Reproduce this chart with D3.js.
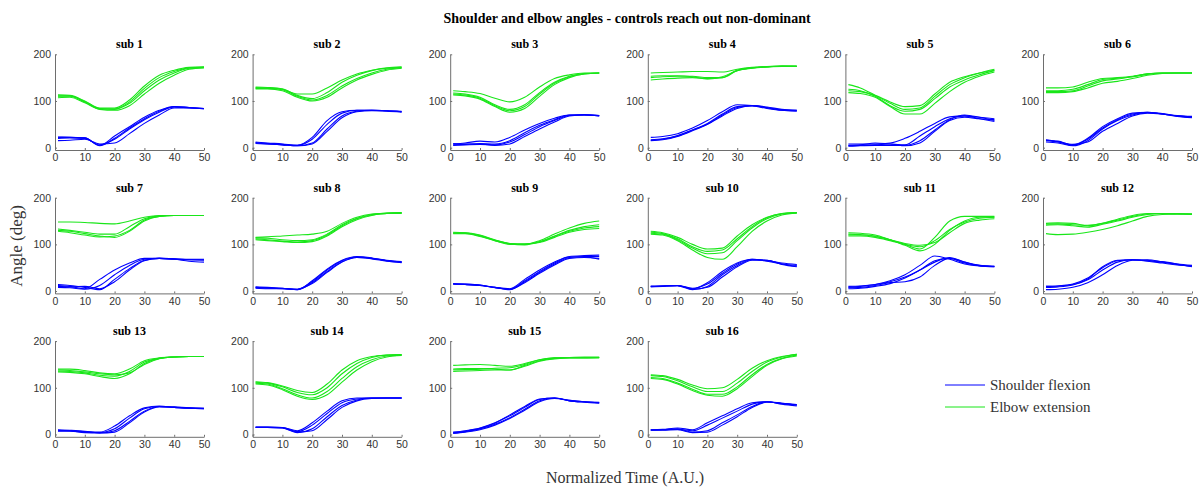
<!DOCTYPE html>
<html>
<head>
<meta charset="utf-8">
<script src="https://cdn.jsdelivr.net/npm/d3@7"></script>
<style>
  body { margin: 0; background: #fff; }
  svg { display: block; }
</style>
</head>
<body>
<div id="chart"></div>
<script>
var timePoints = [1, 5, 10, 15, 20, 25, 30, 35, 40, 45, 50];
var xTicks = [0, 10, 20, 30, 40, 50];
var yTicks = [0, 100, 200];
var seriesNames = ["Shoulder flexion", "Elbow extension"];

// one row per trial, values in degrees at timePoints
var sub1Shoulder = [
  [22, 22, 21, 5, 25, 45, 65, 80, 88, 86, 84],
  [20, 21, 20, 6, 18, 40, 60, 76, 87, 85, 84],
  [15, 16, 18, 8, 10, 30, 52, 70, 85, 85, 83],
  [23, 22, 21, 4, 20, 42, 62, 78, 88, 86, 84]];
var sub1Elbow = [
  [113, 112, 100, 85, 85, 102, 132, 155, 166, 172, 173],
  [110, 110, 98, 83, 82, 95, 122, 145, 160, 170, 172],
  [107, 108, 96, 82, 80, 90, 115, 138, 155, 168, 171],
  [111, 111, 99, 84, 83, 98, 127, 150, 163, 171, 172]];
var sub2Shoulder = [
  [11, 9, 7, 5, 18, 50, 74, 80, 80, 79, 77],
  [10, 8, 6, 4, 10, 40, 68, 78, 80, 79, 77],
  [12, 10, 8, 5, 22, 58, 77, 80, 80, 79, 78],
  [9, 8, 6, 4, 8, 35, 64, 77, 79, 78, 76]];
var sub2Elbow = [
  [130, 129, 126, 112, 105, 118, 140, 155, 165, 170, 172],
  [127, 127, 124, 110, 102, 112, 132, 148, 160, 168, 171],
  [129, 128, 125, 115, 115, 128, 145, 158, 166, 171, 173],
  [126, 126, 122, 108, 100, 108, 128, 145, 157, 166, 170]];
var sub3Shoulder = [
  [8, 10, 14, 12, 22, 38, 52, 63, 70, 70, 68],
  [5, 6, 7, 6, 12, 28, 45, 58, 69, 70, 68],
  [9, 8, 8, 5, 8, 24, 40, 55, 68, 70, 69],
  [6, 7, 9, 8, 15, 32, 48, 60, 70, 71, 69]];
var sub3Elbow = [
  [122, 120, 116, 106, 98, 108, 130, 148, 156, 160, 160],
  [117, 115, 108, 92, 82, 92, 118, 140, 153, 159, 160],
  [113, 111, 104, 88, 76, 84, 110, 135, 150, 158, 160],
  [115, 113, 106, 90, 79, 88, 115, 138, 152, 158, 160]];
var sub4Shoulder = [
  [22, 24, 30, 42, 58, 77, 92, 90, 84, 80, 79],
  [16, 18, 25, 38, 52, 72, 88, 90, 86, 81, 80],
  [17, 19, 26, 38, 50, 68, 84, 90, 87, 82, 80],
  [15, 17, 24, 36, 50, 70, 86, 90, 85, 80, 78]];
var sub4Elbow = [
  [160, 161, 162, 163, 163, 162, 168, 172, 174, 175, 175],
  [150, 152, 153, 153, 150, 150, 165, 170, 173, 175, 175],
  [145, 147, 149, 150, 148, 150, 166, 171, 173, 174, 174],
  [153, 154, 154, 152, 147, 152, 165, 171, 173, 175, 174]];
var sub5Shoulder = [
  [5, 6, 10, 8, 6, 25, 45, 62, 68, 65, 62],
  [3, 4, 5, 5, 5, 15, 38, 60, 70, 65, 58],
  [8, 8, 8, 10, 20, 35, 52, 66, 68, 62, 56],
  [4, 5, 6, 8, 4, 10, 35, 58, 65, 62, 60]];
var sub5Elbow = [
  [135, 128, 112, 95, 82, 85, 110, 135, 150, 160, 168],
  [125, 122, 110, 90, 78, 82, 105, 130, 145, 156, 165],
  [118, 116, 108, 88, 72, 72, 95, 120, 140, 153, 162],
  [122, 120, 112, 98, 88, 90, 115, 140, 152, 160, 166]];
var sub6Shoulder = [
  [16, 14, 6, 20, 45, 62, 74, 76, 72, 68, 66],
  [12, 10, 4, 15, 40, 58, 70, 75, 72, 67, 64],
  [15, 12, 5, 18, 42, 60, 72, 76, 73, 69, 67],
  [17, 13, 7, 12, 35, 52, 68, 74, 72, 68, 65]];
var sub6Elbow = [
  [128, 128, 130, 140, 148, 150, 153, 158, 160, 160, 160],
  [120, 120, 122, 132, 143, 147, 152, 157, 160, 160, 160],
  [118, 118, 120, 128, 138, 142, 148, 155, 159, 160, 160],
  [122, 122, 125, 135, 146, 149, 152, 158, 160, 160, 160]];
var sub7Shoulder = [
  [12, 10, 5, 25, 45, 60, 70, 70, 68, 67, 67],
  [8, 7, 4, 12, 35, 55, 68, 70, 69, 68, 68],
  [14, 12, 8, 3, 25, 48, 66, 70, 69, 67, 66],
  [10, 9, 10, 5, 20, 45, 65, 70, 68, 64, 62]];
var sub7Elbow = [
  [148, 148, 147, 145, 144, 150, 158, 162, 162, 162, 162],
  [133, 130, 126, 122, 122, 138, 155, 161, 162, 162, 162],
  [128, 125, 120, 116, 118, 130, 152, 160, 162, 162, 162],
  [130, 128, 123, 118, 115, 128, 150, 160, 162, 162, 162]];
var sub8Shoulder = [
  [8, 7, 6, 4, 20, 45, 65, 73, 70, 65, 62],
  [6, 5, 5, 3, 18, 42, 63, 72, 70, 66, 63],
  [9, 8, 6, 3, 22, 47, 66, 74, 71, 65, 62],
  [7, 6, 5, 4, 16, 40, 62, 72, 69, 64, 61]];
var sub8Elbow = [
  [115, 116, 118, 120, 122, 128, 145, 158, 165, 167, 168],
  [112, 110, 107, 105, 108, 120, 140, 155, 163, 166, 167],
  [110, 108, 106, 104, 106, 118, 138, 153, 162, 166, 166],
  [114, 113, 110, 108, 110, 122, 142, 156, 164, 167, 168]];
var sub9Shoulder = [
  [15, 15, 13, 8, 5, 25, 45, 62, 74, 76, 77],
  [15, 14, 12, 8, 3, 20, 40, 58, 72, 74, 74],
  [16, 15, 13, 7, 4, 18, 38, 56, 70, 72, 70],
  [15, 14, 12, 8, 4, 22, 42, 60, 73, 73, 68]];
var sub9Elbow = [
  [125, 125, 120, 110, 102, 100, 108, 122, 135, 145, 150],
  [124, 124, 118, 108, 100, 100, 106, 118, 130, 138, 142],
  [126, 125, 119, 109, 101, 99, 105, 117, 128, 135, 138],
  [123, 123, 117, 108, 102, 101, 104, 115, 126, 132, 134]];
var sub10Shoulder = [
  [10, 11, 12, 5, 18, 42, 60, 68, 65, 60, 57],
  [9, 10, 11, 3, 10, 35, 55, 67, 66, 58, 53],
  [10, 11, 12, 4, 8, 30, 52, 66, 66, 57, 52],
  [10, 11, 12, 6, 15, 38, 58, 68, 64, 58, 55]];
var sub10Elbow = [
  [128, 125, 115, 100, 90, 92, 118, 142, 158, 166, 168],
  [124, 122, 110, 92, 80, 82, 108, 135, 155, 165, 168],
  [122, 120, 108, 88, 72, 68, 95, 128, 150, 163, 167],
  [126, 123, 112, 95, 85, 88, 112, 138, 157, 166, 168]];
var sub11Shoulder = [
  [8, 10, 14, 22, 35, 55, 75, 68, 58, 54, 53],
  [5, 6, 10, 16, 28, 45, 65, 70, 60, 55, 53],
  [10, 11, 14, 20, 30, 45, 62, 72, 62, 55, 52],
  [7, 8, 12, 18, 20, 30, 55, 70, 62, 54, 52]];
var sub11Elbow = [
  [125, 124, 120, 110, 100, 90, 115, 150, 160, 160, 160],
  [118, 118, 115, 108, 100, 95, 108, 132, 148, 156, 158],
  [120, 120, 117, 110, 102, 98, 104, 125, 145, 152, 155],
  [122, 121, 118, 110, 98, 86, 100, 130, 150, 158, 158]];
var sub12Shoulder = [
  [10, 11, 15, 28, 50, 65, 67, 65, 62, 58, 55],
  [8, 9, 13, 24, 45, 62, 67, 66, 62, 57, 53],
  [3, 4, 8, 18, 35, 55, 66, 67, 63, 58, 52],
  [10, 11, 14, 26, 52, 66, 67, 64, 60, 56, 54]];
var sub12Elbow = [
  [145, 146, 145, 140, 145, 152, 160, 165, 166, 165, 165],
  [141, 142, 140, 137, 143, 150, 158, 164, 166, 166, 165],
  [123, 121, 122, 126, 132, 140, 150, 160, 164, 165, 165],
  [143, 144, 142, 141, 145, 154, 162, 166, 166, 165, 164]];
var sub13Shoulder = [
  [8, 8, 6, 4, 12, 35, 55, 60, 58, 56, 55],
  [10, 9, 7, 3, 8, 28, 50, 60, 59, 57, 56],
  [7, 7, 5, 5, 18, 40, 57, 61, 58, 56, 55],
  [9, 8, 4, 3, 5, 25, 48, 59, 58, 57, 56]];
var sub13Elbow = [
  [140, 140, 137, 132, 130, 140, 158, 164, 166, 167, 167],
  [136, 135, 132, 127, 125, 135, 155, 163, 166, 167, 167],
  [138, 137, 134, 130, 128, 132, 150, 162, 166, 167, 167],
  [134, 133, 130, 124, 120, 130, 152, 163, 166, 167, 167]];
var sub14Shoulder = [
  [16, 16, 15, 6, 20, 45, 68, 76, 78, 78, 78],
  [15, 15, 14, 4, 12, 38, 62, 74, 78, 78, 78],
  [16, 16, 15, 8, 25, 50, 72, 78, 78, 78, 78],
  [15, 15, 14, 5, 8, 32, 58, 72, 77, 78, 78]];
var sub14Elbow = [
  [112, 110, 102, 90, 85, 100, 130, 152, 165, 170, 171],
  [110, 108, 98, 85, 78, 92, 120, 145, 160, 168, 170],
  [108, 106, 96, 82, 75, 85, 112, 138, 156, 166, 169],
  [113, 111, 104, 94, 90, 108, 138, 158, 167, 170, 171]];
var sub15Shoulder = [
  [5, 8, 14, 25, 40, 58, 75, 78, 72, 70, 69],
  [3, 6, 12, 22, 36, 54, 72, 78, 73, 70, 68],
  [4, 7, 13, 24, 42, 60, 76, 78, 72, 69, 67],
  [2, 5, 10, 20, 34, 52, 70, 77, 73, 70, 68]];
var sub15Elbow = [
  [148, 149, 150, 148, 146, 152, 160, 164, 165, 165, 165],
  [140, 141, 141, 140, 138, 148, 158, 163, 164, 164, 165],
  [135, 136, 137, 138, 138, 146, 157, 162, 164, 164, 164],
  [138, 139, 140, 142, 143, 150, 160, 164, 165, 166, 166]];
var sub16Shoulder = [
  [10, 10, 11, 8, 20, 35, 50, 65, 70, 66, 63],
  [9, 10, 12, 5, 8, 25, 42, 60, 70, 67, 64],
  [10, 11, 14, 10, 25, 40, 55, 68, 70, 65, 61],
  [9, 9, 10, 4, 5, 20, 38, 58, 69, 67, 63]];
var sub16Elbow = [
  [126, 124, 115, 102, 92, 92, 110, 135, 155, 166, 172],
  [122, 120, 110, 97, 86, 86, 102, 128, 150, 163, 170],
  [128, 126, 118, 106, 98, 100, 118, 142, 158, 167, 172],
  [120, 118, 108, 94, 84, 82, 98, 124, 148, 162, 168]];

var subjects = [
  {name: "sub 1", shoulder: sub1Shoulder, elbow: sub1Elbow},
  {name: "sub 2", shoulder: sub2Shoulder, elbow: sub2Elbow},
  {name: "sub 3", shoulder: sub3Shoulder, elbow: sub3Elbow},
  {name: "sub 4", shoulder: sub4Shoulder, elbow: sub4Elbow},
  {name: "sub 5", shoulder: sub5Shoulder, elbow: sub5Elbow},
  {name: "sub 6", shoulder: sub6Shoulder, elbow: sub6Elbow},
  {name: "sub 7", shoulder: sub7Shoulder, elbow: sub7Elbow},
  {name: "sub 8", shoulder: sub8Shoulder, elbow: sub8Elbow},
  {name: "sub 9", shoulder: sub9Shoulder, elbow: sub9Elbow},
  {name: "sub 10", shoulder: sub10Shoulder, elbow: sub10Elbow},
  {name: "sub 11", shoulder: sub11Shoulder, elbow: sub11Elbow},
  {name: "sub 12", shoulder: sub12Shoulder, elbow: sub12Elbow},
  {name: "sub 13", shoulder: sub13Shoulder, elbow: sub13Elbow},
  {name: "sub 14", shoulder: sub14Shoulder, elbow: sub14Elbow},
  {name: "sub 15", shoulder: sub15Shoulder, elbow: sub15Elbow},
  {name: "sub 16", shoulder: sub16Shoulder, elbow: sub16Elbow}
];

var width = 1203, height = 488;
var blue = "#0000ff", green = "#19e619";
var axisColor = "#6e6e6e", textColor = "#333";

// panel layout
var left0 = 55, top0 = 54.3;
var colStep = 197.6, rowStep = 143.4;
var panelW = 149, panelH = 95.7;
var nCols = 6;

var svg = d3.select("#chart").append("svg")
  .attr("width", width)
  .attr("height", height)
  .style("font-family", "'Liberation Sans', Arial, sans-serif");

var x = d3.scaleLinear().domain([0, 50]).range([0, panelW]);
var y = d3.scaleLinear().domain([-5, 200]).range([panelH, 0]);

var line = d3.line()
  .x(function(d, i) { return x(timePoints[i]); })
  .y(function(d) { return y(d); })
  .curve(d3.curveMonotoneX);

var xAxis = d3.axisBottom(x).tickValues(xTicks).tickSizeInner(-2).tickSizeOuter(0).tickPadding(4);
var yAxis = d3.axisLeft(y).tickValues(yTicks).tickSizeInner(-2).tickSizeOuter(0).tickPadding(4);

subjects.forEach(function(s, k) {
  var col = k % nCols, row = Math.floor(k / nCols);
  var g = svg.append("g")
    .attr("transform", "translate(" + (left0 + col * colStep) + "," + (top0 + row * rowStep) + ")");

  g.append("g").attr("class", "x axis")
    .attr("transform", "translate(0," + panelH + ")")
    .call(xAxis);
  g.append("g").attr("class", "y axis")
    .call(yAxis);

  g.selectAll(".elbow")
    .data(s.elbow)
    .enter()
    .append("path")
    .attr("class", "elbow")
    .attr("d", line)
    .attr("fill", "none")
    .attr("stroke", green)
    .attr("stroke-width", 1.1);

  g.selectAll(".shoulder")
    .data(s.shoulder)
    .enter()
    .append("path")
    .attr("class", "shoulder")
    .attr("d", line)
    .attr("fill", "none")
    .attr("stroke", blue)
    .attr("stroke-width", 1.1);

  g.append("text")
    .attr("x", panelW / 2)
    .attr("y", -6)
    .attr("text-anchor", "middle")
    .style("font-family", "'Liberation Serif', 'Times New Roman', serif")
    .style("font-weight", "bold")
    .style("font-size", "12px")
    .style("fill", "#000")
    .text(s.name);
});

svg.selectAll(".axis path, .axis line").attr("stroke", axisColor);
svg.selectAll(".axis text")
  .style("font-size", "10.5px")
  .style("font-family", "'Liberation Sans', Arial, sans-serif")
  .attr("fill", textColor);

// title and axis labels
svg.append("text")
  .attr("x", 627)
  .attr("y", 23)
  .attr("text-anchor", "middle")
  .style("font-family", "'Liberation Serif', 'Times New Roman', serif")
  .style("font-weight", "bold")
  .style("font-size", "14px")
  .text("Shoulder and elbow angles - controls reach out non-dominant");

svg.append("text")
  .attr("transform", "translate(22,246) rotate(-90)")
  .attr("text-anchor", "middle")
  .style("font-family", "'Liberation Serif', 'Times New Roman', serif")
  .style("font-size", "17px")
  .style("fill", textColor)
  .text("Angle (deg)");

svg.append("text")
  .attr("x", 625)
  .attr("y", 483)
  .attr("text-anchor", "middle")
  .style("font-family", "'Liberation Serif', 'Times New Roman', serif")
  .style("font-size", "16px")
  .style("fill", textColor)
  .text("Normalized Time (A.U.)");

// legend
var legend = svg.append("g").attr("transform", "translate(945,385)");
legend.selectAll("g")
  .data(seriesNames)
  .enter()
  .append("g")
  .attr("transform", function(d, i) { return "translate(0," + (i * 22) + ")"; })
  .each(function(d, i) {
    var lg = d3.select(this);
    lg.append("line")
      .attr("x1", 0).attr("x2", 40)
      .attr("y1", 0).attr("y2", 0)
      .attr("stroke", i === 0 ? blue : green)
      .attr("stroke-width", 1);
    lg.append("text")
      .attr("x", 45)
      .attr("y", 5)
      .style("font-family", "'Liberation Serif', 'Times New Roman', serif")
      .style("font-size", "15px")
      .style("fill", textColor)
      .text(d);
  });
</script>
</body>
</html>
